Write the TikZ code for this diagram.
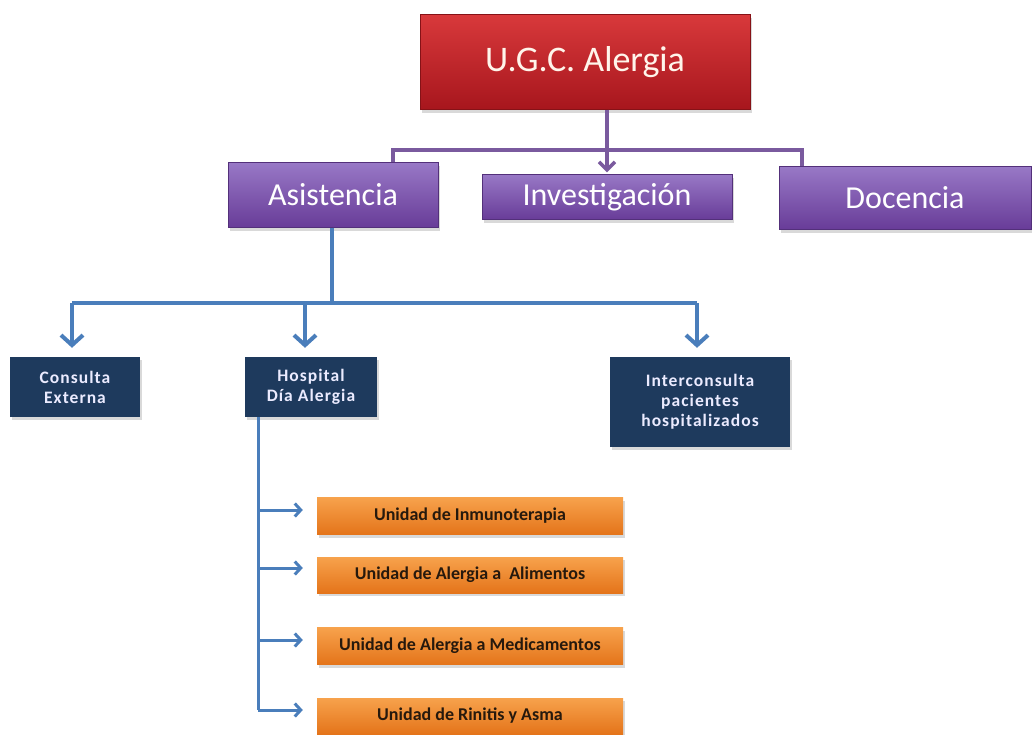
\documentclass[tikz,border=0pt]{standalone}
\usepackage{fontspec}
\setmainfont{Carlito}
\newfontfamily\wideface[LetterSpace=6]{Carlito}
\usetikzlibrary{arrows.meta, positioning, shadows}
\definecolor{redtop}{HTML}{D8393B}
\definecolor{redbot}{HTML}{A7161D}
\definecolor{purtop}{HTML}{9878C6}
\definecolor{purbot}{HTML}{683C98}
\definecolor{navy}{HTML}{1E3A5D}
\definecolor{oratop}{HTML}{F7A24C}
\definecolor{orabot}{HTML}{E4741A}
\definecolor{bline}{HTML}{4A7EBB}
\definecolor{pline}{HTML}{7A5A9E}
\tikzstyle{shade} = [drop shadow={shadow xshift=2pt, shadow yshift=-3pt, opacity=0.3}]
\tikzstyle{rbox} = [shade, top color=redtop, bottom color=redbot, draw=redbot!80!black, inner sep=0pt, text=white!92!orange, font=\fontsize{36}{42}\selectfont]
\tikzstyle{pbox} = [shade, top color=purtop, bottom color=purbot, draw=purbot!80!black, inner sep=0pt, text=white, font=\fontsize{32}{36}\selectfont]
\tikzstyle{nbox} = [shade, fill=navy, inner sep=0pt, align=center, text=white!92!blue, font=\wideface\bfseries\fontsize{17.5}{20}\selectfont]
\tikzstyle{obox} = [shade, top color=oratop, bottom color=orabot, inner sep=0pt, minimum width=306pt, text=black!80!brown, font=\bfseries\fontsize{18}{20}\selectfont]
\tikzstyle{pline} = [draw=pline, line width=3.5pt]
\tikzstyle{bline} = [draw=bline, line width=4pt]
\tikzstyle{sline} = [draw=bline, line width=3pt]

\begin{document}
\begin{tikzpicture}[x=1pt, y=-1pt]
			\useasboundingbox (0,0) rectangle (1032,734);
			% top level
			\node [rbox, minimum width=330pt, minimum height=95pt] (ugc) at (585, 62) {U.G.C. Alergia};
			\node [pbox, minimum width=210pt, minimum height=65pt] (asis) at (333, 195) {Asistencia};
			\node [pbox, minimum width=250pt, minimum height=45pt] (inv) at (607, 197) {Investigación};
			\node [pbox, minimum width=252pt, minimum height=63pt] (doc) at (905, 198) {Docencia};
			
			% second level
			\node [nbox, minimum width=130pt, minimum height=60pt] (cons) at (75, 387) {Consulta\\Externa};
			\node [nbox, minimum width=132pt, minimum height=60pt] (hosp) at (311, 387) {Hospital\\Día Alergia};
			\node [nbox, minimum width=180pt, minimum height=90pt] (inter) at (700, 402) {Interconsulta\\pacientes\\hospitalizados};
			
			% units
			\node [obox, minimum height=37pt] (u1) at (470, 516) {Unidad de Inmunoterapia};
			\node [obox, minimum height=36pt] (u2) at (470, 575) {Unidad de Alergia a~~Alimentos};
			\node [obox, minimum height=37pt] (u3) at (470, 646) {Unidad de Alergia a Medicamentos};
			\node [obox, minimum height=36pt] (u4) at (470, 716) {Unidad de Rinitis y Asma};
			
			\coordinate (pl) at (393, 150);
			\coordinate (pr) at (802, 150);
			\coordinate (bj) at (332, 303);
			\coordinate (bl) at (72, 303);
			\coordinate (bm) at (305, 303);
			\coordinate (br) at (697, 303);
			\coordinate (hv) at (258, 710);
			
			\path [pline] (asis.north -| pl) -- (pl) -- (pr) -- (doc.north -| pr);
			\path [pline, -{Straight Barb[length=8pt, width=16pt]}, shorten >=2pt] (ugc.south -| inv.north) -- (inv.north);
			
			\path [bline] (asis.south -| bj) -- (bj);
			\path [bline] (bl) -- (br);
			\path [bline, -{Straight Barb[length=10pt, width=22pt]}, shorten >=9pt] (bl) -- (cons.north -| bl);
			\path [bline, -{Straight Barb[length=10pt, width=22pt]}, shorten >=9pt] (bm) -- (hosp.north -| bm);
			\path [bline, -{Straight Barb[length=10pt, width=22pt]}, shorten >=9pt] (br) -- (inter.north -| br);
			
			\path [sline] (hosp.south -| hv) -- (hv);
			\path [sline, -{Straight Barb[length=6pt, width=13pt]}, shorten >=14pt] ([yshift=6pt]hv |- u1.west) -- ([yshift=6pt]u1.west);
			\path [sline, -{Straight Barb[length=6pt, width=13pt]}, shorten >=14pt] ([yshift=7pt]hv |- u2.west) -- ([yshift=7pt]u2.west);
			\path [sline, -{Straight Barb[length=6pt, width=13pt]}, shorten >=14pt] ([yshift=6pt]hv |- u3.west) -- ([yshift=6pt]u3.west);
			\path [sline, -{Straight Barb[length=6pt, width=13pt]}, shorten >=14pt] (hv) -- (hv -| u4.west);
		\end{tikzpicture}
\end{document}
